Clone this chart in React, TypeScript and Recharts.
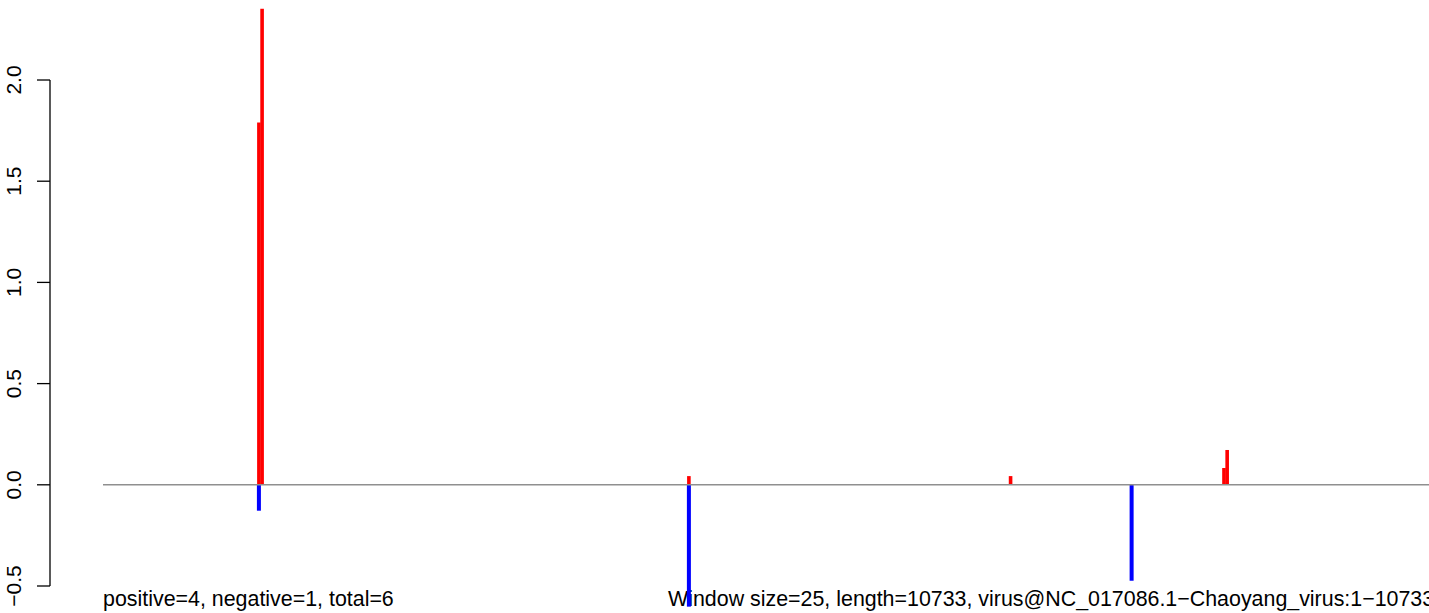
import React from "react";
import { ComposedChart, Bar, XAxis, YAxis, ReferenceLine } from "recharts";

// Window start positions (nt) of windows carrying a signal
const positions = [1225, 1250, 4600, 7125, 8075, 8800, 8825];
// Positive-strand scores (red)
const positiveValues = [1.79, 2.352, 0.043, 0.043, 0, 0.083, 0.172];
// Negative-strand scores (blue)
const negativeValues = [-0.128, 0, -0.602, 0, -0.474, 0, 0];
// Y tick values
const yTicks = [-0.5, 0, 0.5, 1, 1.5, 2];

const seqLength = 10733;
const summaryLabel = "positive=4, negative=1, total=6";
const windowLabel =
  "Window size=25, length=10733, virus@NC_017086.1\u2212Chaoyang_virus:1\u221210733";

const rows = positions.map((pos, i) => ({
  pos,
  positive: positiveValues[i],
  negative: negativeValues[i],
}));

const W = 1429;
const H = 613;
const xMin = -416;
const xMax = 10408;
const yMin = -0.6334;
const yMax = 2.3953;
const FONT = "'Liberation Sans', Arial, Helvetica, sans-serif";

const RotTick = (props: any) => {
  const { y, payload } = props;
  const v: number = payload.value;
  const label = v.toFixed(1).replace("-", "\u2212");
  return (
    <text
      transform={`translate(21, ${y}) rotate(-90)`}
      textAnchor="middle"
      fontSize={21}
      fontFamily={FONT}
      fill="#000"
    >
      {label}
    </text>
  );
};

const makeShape = (color: string, w: number) => (props: any) => {
  const { x, y, width, height } = props;
  if (!height || Math.abs(height) < 0.01) return <g />;
  const cx = x + width / 2;
  const top = height < 0 ? y + height : y;
  return <rect x={cx - w / 2} y={top} width={w} height={Math.abs(height)} fill={color} />;
};

const redShape = makeShape("#ff0000", 3.6);
const blueShape = makeShape("#0000ff", 4);

export default function App() {
  return (
    <div style={{ position: "absolute", left: 0, top: 0, width: W, height: H, overflow: "hidden", background: "#fff" }}>
      <svg width={W} height={H} style={{ position: "absolute", left: 0, top: 0 }}>
        <text x={103} y={606} fontSize={21.4} fontFamily={FONT} fill="#000">
          {summaryLabel}
        </text>
        <text x={668} y={606} fontSize={21.4} fontFamily={FONT} fill="#000">
          {windowLabel}
        </text>
      </svg>
      <div style={{ position: "absolute", left: 0, top: 0 }}>
        <ComposedChart
          width={W}
          height={H}
          data={rows}
          margin={{ top: 0, right: 0, bottom: 0, left: 0 }}
          stackOffset="sign"
        >
          <XAxis dataKey="pos" type="number" domain={[xMin, xMax]} hide allowDataOverflow />
          <YAxis
            type="number"
            domain={[yMin, yMax]}
            ticks={yTicks}
            interval={0}
            width={50}
            allowDataOverflow
            axisLine={false}
            tickLine={{ stroke: "#000", strokeWidth: 1.3 }}
            tickSize={13}
            tick={<RotTick />}
          />
          <ReferenceLine
            segment={[{ x: xMin, y: -0.5 }, { x: xMin, y: 2 }]}
            stroke="#000"
            strokeWidth={1.3}
            ifOverflow="visible"
          />
          <ReferenceLine
            segment={[{ x: 0, y: 0 }, { x: seqLength, y: 0 }]}
            stroke="#8f8f8f"
            strokeWidth={1.5}
            ifOverflow="hidden"
          />
          <Bar dataKey="positive" stackId="s" fill="#ff0000" barSize={4} shape={redShape} isAnimationActive={false} />
          <Bar dataKey="negative" stackId="s" fill="#0000ff" barSize={4} shape={blueShape} isAnimationActive={false} />
        </ComposedChart>
      </div>
    </div>
  );
}
